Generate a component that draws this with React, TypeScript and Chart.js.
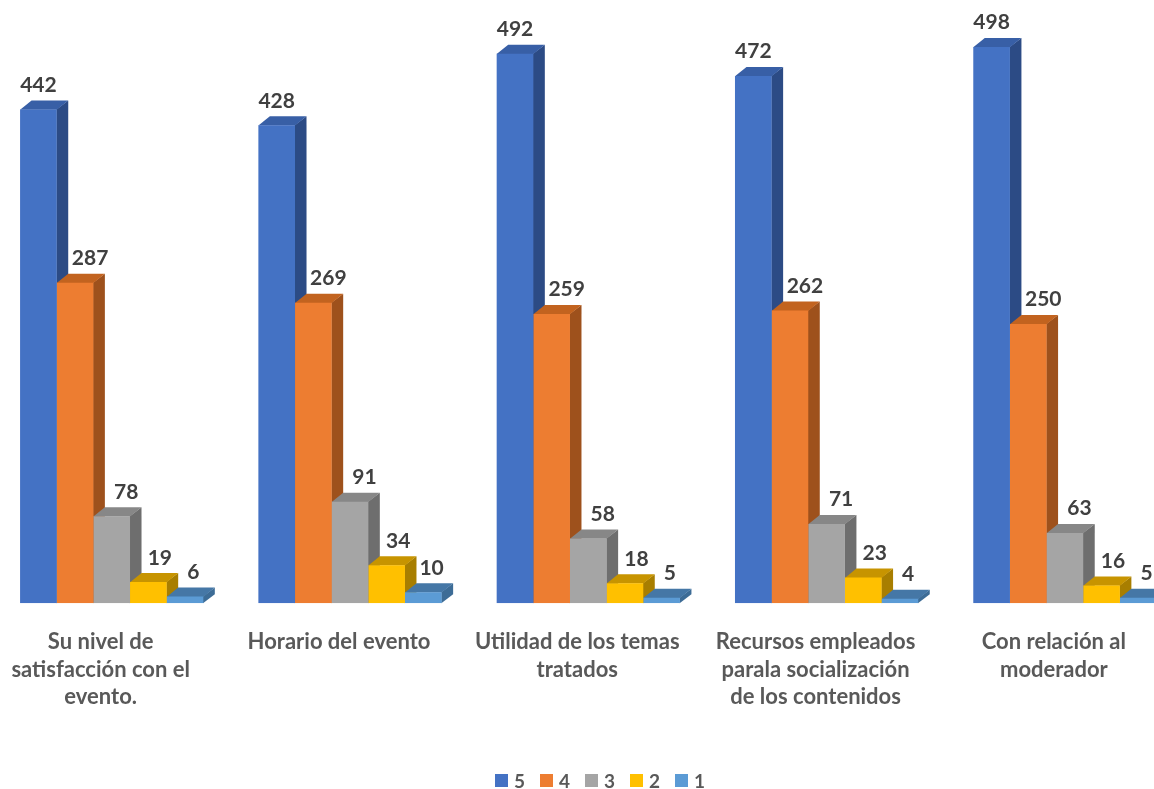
import React, { useEffect, useRef } from "react";
import { Chart, registerables } from "chart.js";

Chart.register(...registerables);

// ---------- data ----------
const categoryLines: string[][] = [
  ["Su nivel de", "satisfacción con el", "evento."],
  ["Horario del evento"],
  ["Utilidad de los temas", "tratados"],
  ["Recursos empleados", "parala socialización", "de los contenidos"],
  ["Con relación al", "moderador"],
];
const seriesNames = ["5", "4", "3", "2", "1"];
const values5 = [442, 428, 492, 472, 498];
const values4 = [287, 269, 259, 262, 250];
const values3 = [78, 91, 58, 71, 63];
const values2 = [19, 34, 18, 23, 16];
const values1 = [6, 10, 5, 4, 5];
const yMin = 0;
const yMax = 540;

// ---------- style ----------
const frontColors = ["#4472C4", "#ED7D31", "#A5A5A5", "#FFC000", "#5B9BD5"];
const sideColors = ["#2C4B85", "#9E511C", "#6E6E6E", "#A87E00", "#3D6C96"];
const topColors = ["#385FA6", "#C2631F", "#878787", "#C79400", "#4577A6"];
const labelShiftX = [0, 15, 14.5, 11.5, 8.3];
const DX = 11.5;
const DY = -9;
const OFFSET_X = -8; // canvas left relative to page

const threeD = {
  id: "threeD",
  beforeDatasetsDraw(chart: any) {
    const ctx = chart.ctx;
    const n = chart.data.labels.length;
    ctx.save();
    for (let c = 0; c < n; c++) {
      for (let d = 0; d < chart.data.datasets.length; d++) {
        const el = chart.getDatasetMeta(d).data[c];
        const { x, y, base, width } = el.getProps(["x", "y", "base", "width"], true);
        const l = x - width / 2;
        const r = x + width / 2;
        ctx.fillStyle = sideColors[d];
        ctx.beginPath();
        ctx.moveTo(r - 0.3, y);
        ctx.lineTo(r + DX, y + DY);
        ctx.lineTo(r + DX, base + DY);
        ctx.lineTo(r - 0.3, base);
        ctx.closePath();
        ctx.fill();
        ctx.fillStyle = topColors[d];
        ctx.beginPath();
        ctx.moveTo(l, y + 0.3);
        ctx.lineTo(l + DX, y + DY);
        ctx.lineTo(r + DX, y + DY);
        ctx.lineTo(r, y + 0.3);
        ctx.closePath();
        ctx.fill();
      }
    }
    ctx.restore();
  },
  afterDatasetsDraw(chart: any) {
    const ctx = chart.ctx;
    const n = chart.data.labels.length;
    ctx.save();
    ctx.font = "bold 21px Lato";
    ctx.fillStyle = "#404040";
    ctx.textAlign = "center";
    ctx.textBaseline = "alphabetic";
    for (let d = 0; d < chart.data.datasets.length; d++) {
      const meta = chart.getDatasetMeta(d);
      for (let c = 0; c < n; c++) {
        const el = meta.data[c];
        const { x, y } = el.getProps(["x", "y"], true);
        const v = chart.data.datasets[d].data[c];
        ctx.fillText(String(v), x + labelShiftX[d], y + DY - 8.5);
      }
    }
    ctx.restore();
  },
  afterDraw(chart: any) {
    const ctx = chart.ctx;
    const xScale = chart.scales.x;
    ctx.save();
    // category labels
    ctx.font = "bold 22px Lato";
    ctx.fillStyle = "#595959";
    ctx.textAlign = "center";
    ctx.textBaseline = "alphabetic";
    categoryLines.forEach((lines, i) => {
      const cx = xScale.getPixelForValue(i) - 11;
      lines.forEach((line, j) => {
        ctx.fillText(line, cx, 649 + j * 27.5);
      });
    });
    // legend
    ctx.font = "bold 19px Lato";
    ctx.textAlign = "left";
    seriesNames.forEach((name, i) => {
      const sx = 495 - OFFSET_X + i * 45;
      ctx.fillStyle = frontColors[i];
      ctx.fillRect(sx, 774, 13, 13);
      ctx.fillStyle = "#595959";
      ctx.fillText(name, sx + 19, 787.5);
    });
    ctx.restore();
  },
};

export default function App() {
  const canvasRef = useRef<HTMLCanvasElement | null>(null);

  useEffect(() => {
    const canvas = canvasRef.current;
    if (!canvas) return;
    const series = [values5, values4, values3, values2, values1];
    const chart = new Chart(canvas, {
      type: "bar",
      data: {
        labels: categoryLines.map((l) => l.join(" ")),
        datasets: series.map((vals, i) => ({
          label: seriesNames[i],
          data: vals,
          backgroundColor: frontColors[i],
          borderWidth: 0,
          categoryPercentage: 0.769,
          barPercentage: 1.0,
        })),
      },
      options: {
        responsive: true,
        maintainAspectRatio: false,
        animation: false,
        layout: { padding: { left: 0.55, right: 7.95, top: 0, bottom: 185.7 } },
        plugins: {
          legend: { display: false },
          tooltip: { enabled: false },
        },
        scales: {
          x: { display: false, grid: { display: false } },
          y: { display: false, min: yMin, max: yMax, grid: { display: false } },
        },
      },
      plugins: [threeD],
    });
    return () => chart.destroy();
  }, []);

  return (
    <div
      style={{
        position: "fixed",
        left: 0,
        top: 0,
        width: 1154,
        height: 789,
        overflow: "hidden",
        background: "#ffffff",
      }}
    >
      <div style={{ position: "absolute", left: OFFSET_X, top: 0, width: 1200, height: 789 }}>
        <canvas ref={canvasRef} />
      </div>
    </div>
  );
}
